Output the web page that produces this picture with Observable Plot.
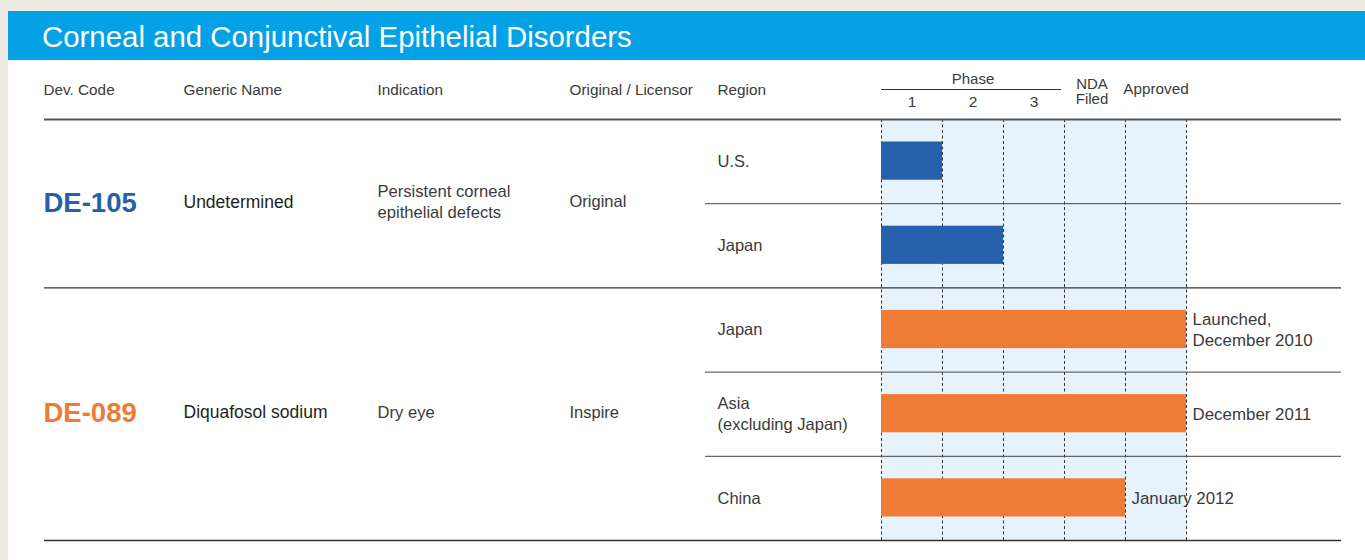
<!DOCTYPE html>
<html><head><meta charset="utf-8">
<script src="https://cdn.jsdelivr.net/npm/d3@7"></script>
<script src="https://cdn.jsdelivr.net/npm/@observablehq/plot@0.6"></script>
<style>
html,body{margin:0;padding:0;background:#EEEBE4;width:1365px;height:560px;overflow:hidden;font-family:"Liberation Sans",Arial,sans-serif}
#card{position:absolute;left:8px;top:11px;width:1357px;height:549px;background:#fff}
#title{height:49px;background:#04A1E7;color:#fff;font-size:29.4px;line-height:49px;padding-left:34px;box-sizing:border-box;padding-top:1px;white-space:nowrap}
#chart svg{display:block}
</style></head><body>
<div id="card"><div id="title">Corneal and Conjunctival Epithelial Disorders</div><div id="chart"></div></div>
<script>
// ---- data ----
const headers = ["Dev. Code", "Generic Name", "Indication", "Original / Licensor", "Region"];
const phaseLabels = ["1", "2", "3"];
const stageNames = ["Phase 1", "Phase 2", "Phase 3", "NDA Filed", "Approved"];
const devCodes = ["DE-105", "DE-089"];
const genericNames = ["Undetermined", "Diquafosol sodium"];
const indications = ["Persistent corneal\nepithelial defects", "Dry eye"];
const licensors = ["Original", "Inspire"];
const regions = ["U.S.", "Japan", "Japan", "Asia\n(excluding Japan)", "China"];
const regionProduct = [0, 0, 1, 1, 1];
const stageReached = [1, 2, 5, 5, 4]; // 1..3 = Phase, 4 = NDA filed, 5 = Approved
const stageNotes = ["", "", "Launched,\nDecember 2010", "December 2011", "January 2012"];

// ---- layout / style ----
const productColors = ["#2660AD", "#EE7B36"];
const W = 1357, H = 500;
const xRange = [873, 1178], yRange = [59, 480];
const unitX = (xRange[1] - xRange[0]) / stageNames.length;
const unitY = (yRange[1] - yRange[0]) / regions.length;
const toX = px => (px - xRange[0]) / unitX;
const toY = px => (px - yRange[0]) / unitY;
const colPx = [35, 175, 369, 561, 709];
const lineLeft = toX(36), lineRight = toX(1333), regionLineLeft = toX(697);
const font = '"Liberation Sans", Arial, sans-serif';
const textColor = "#3a3a3a";

const rowIdx = d3.range(regions.length);
const prodIdx = d3.range(devCodes.length);
const prodStart = prodIdx.map(p => regionProduct.indexOf(p));
const prodEnd = prodIdx.map(p => regionProduct.lastIndexOf(p) + 1);
const prodMid = prodIdx.map(p => (prodStart[p] + prodEnd[p]) / 2);
const innerLines = rowIdx.slice(1).filter(i => regionProduct[i] === regionProduct[i - 1]);
const stageEdges = d3.range(stageNames.length + 1);

const textBase = {fontFamily: font, textAnchor: "start", lineHeight: 1.28};

const chart = Plot.plot({
  width: W, height: H,
  margin: 0,
  x: {type: "linear", domain: [0, stageNames.length], range: xRange, axis: null},
  y: {type: "linear", domain: [0, regions.length], range: yRange, axis: null},
  style: {fontFamily: font, background: "transparent", overflow: "visible"},
  marks: [
    // shaded stage area
    Plot.rect([0], {x1: 0, x2: stageNames.length, y1: 0, y2: regions.length, fill: "#E6F3FC"}),
    // dashed stage dividers
    Plot.ruleX(stageEdges, {y1: 0, y2: regions.length, stroke: "#333", strokeWidth: 1, strokeDasharray: "3,2.5"}),
    // table rules
    Plot.ruleY([0], {x1: lineLeft, x2: lineRight, stroke: "#555", strokeWidth: 2}),
    Plot.ruleY(prodEnd, {x1: lineLeft, x2: lineRight, stroke: "#333", strokeWidth: 1.3}),
    Plot.ruleY(innerLines, {x1: regionLineLeft, x2: lineRight, stroke: "#444", strokeWidth: 1}),
    // progress bars
    Plot.rect(rowIdx, {x1: 0, x2: i => stageReached[i], y1: i => i, y2: i => i + 1,
      insetTop: 22.5, insetBottom: 23.5, fill: i => productColors[regionProduct[i]]}),
    // notes
    Plot.text(rowIdx.filter(i => stageNotes[i]), {...textBase, x: i => stageReached[i], y: i => i + 0.5,
      text: i => stageNotes[i], dx: 6, dy: -1.5, fontSize: 16.9, fill: textColor}),
    // region labels
    Plot.text(rowIdx, {...textBase, x: toX(colPx[4]), y: i => i + 0.5, dy: -1.5, text: i => regions[i], fontSize: 16.5, fill: textColor}),
    // product columns
    Plot.text(prodIdx, {...textBase, x: toX(colPx[0]), y: p => prodMid[p], dy: -3, text: p => devCodes[p],
      fontSize: 27.5, fontWeight: "bold", fill: p => productColors[p]}),
    Plot.text(prodIdx, {...textBase, x: toX(colPx[1]), y: p => prodMid[p], dy: -3, text: p => genericNames[p], fontSize: 17.5, fill: "#231f20"}),
    Plot.text(prodIdx, {...textBase, x: toX(colPx[2]), y: p => prodMid[p], dy: -3, text: p => indications[p], fontSize: 16.6, fill: textColor}),
    Plot.text(prodIdx, {...textBase, x: toX(colPx[3]), y: p => prodMid[p], dy: -3, text: p => licensors[p], fontSize: 16.5, fill: textColor}),
    // header
    Plot.text(headers, {...textBase, x: (d, i) => toX(colPx[i]), y: toY(28), text: d => d, fontSize: 15.3, fill: textColor}),
    Plot.text(["Phase"], {x: 1.5, y: toY(19), text: d => d, fontSize: 15, fill: textColor, fontFamily: font}),
    Plot.ruleY([toY(29)], {x1: 0, x2: toX(1053), stroke: "#333", strokeWidth: 1}),
    Plot.text(phaseLabels, {x: (d, i) => i + 0.5, y: toY(42), text: d => d, fontSize: 15.5, fill: textColor, fontFamily: font}),
    Plot.text([stageNames[3]], {x: 3.5, dx: -3, y: toY(31), text: () => "NDA\nFiled", lineHeight: 1.05, fontSize: 15, fill: textColor, fontFamily: font}),
    Plot.text([stageNames[4]], {x: 4.5, y: toY(29), text: d => d, fontSize: 15.3, fill: textColor, fontFamily: font})
  ]
});
document.getElementById("chart").appendChild(chart);
</script>
</body></html>
